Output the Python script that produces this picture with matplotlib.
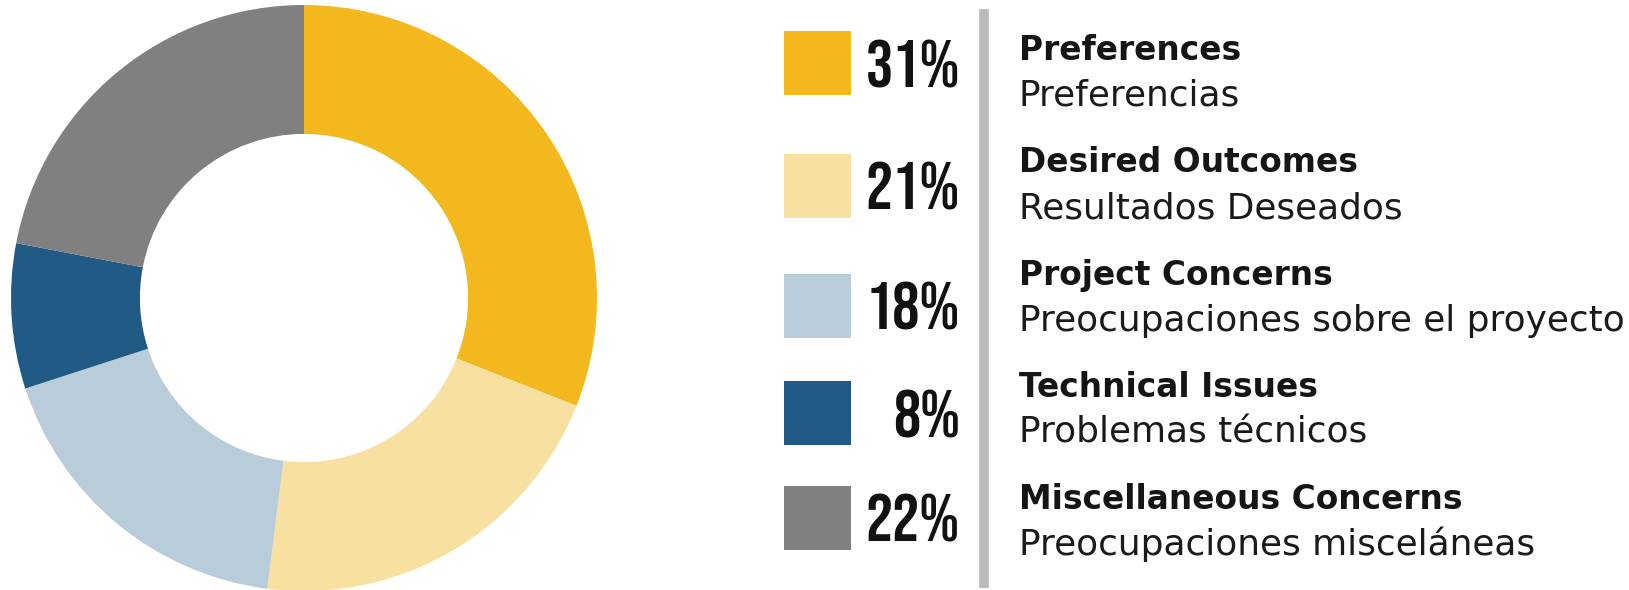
import matplotlib.pyplot as plt
from matplotlib.patches import Rectangle

# data
categories = ['Preferences', 'Desired Outcomes', 'Project Concerns',
              'Technical Issues', 'Miscellaneous Concerns']
categorias = ['Preferencias', 'Resultados Deseados', 'Preocupaciones sobre el proyecto',
              'Problemas técnicos', 'Preocupaciones misceláneas']
porcentajes = [31, 21, 18, 8, 22]
colores = ['#F2B81E', '#F8E0A0', '#B8CCDA', '#215A85', '#808080']

W, H = 1629, 590
fig = plt.figure(figsize=(W / 100, H / 100), dpi=100)

# donut
ax = fig.add_axes([11 / W, (H - 298 - 293) / H, 586 / W, 586 / H])
ax.pie(porcentajes, colors=colores, startangle=90, counterclock=False,
       radius=1, wedgeprops=dict(width=0.44, linewidth=0))
ax.set_xlim(-1, 1)
ax.set_ylim(-1, 1)
ax.axis('off')

# leyenda en coordenadas de pixel
lg = fig.add_axes([0, 0, 1, 1])
lg.set_xlim(0, W)
lg.set_ylim(H, 0)
lg.axis('off')

centros = [63, 186, 306, 413, 518]   # centro vertical de cada cuadro
for i, (p, c) in enumerate(zip(porcentajes, colores)):
    y = centros[i]
    lg.add_patch(Rectangle((784, y - 32), 67, 64, color=c, lw=0))
    lg.text(960, y + 24, f'{p}%', ha='right', va='baseline', fontsize=49,
            family=['Bebas Neue', 'Oswald', 'DejaVu Sans'], color='#111111')

# separador
lg.plot([984, 984], [9, 588], color='#BBBBBB', lw=7, solid_capstyle='butt')

fuente = ['DejaVu Sans']
t_en, t_es = [], []
for i, (en, es) in enumerate(zip(categories, categorias)):
    yb = 60 + i * 112.3
    t_en.append(lg.text(1019, yb, en, ha='left', va='baseline', fontsize=22,
                        fontweight='bold', family=fuente, color='#151515'))
    t_es.append(lg.text(1019, yb + 46, es, ha='left', va='baseline', fontsize=23.5,
                        family=fuente, color='#1a1a1a'))

# ajustar tamaño al ancho de la referencia
r = fig.canvas.get_renderer()
k_en = 443 / t_en[4].get_window_extent(r).width
k_es = 603 / t_es[2].get_window_extent(r).width
for t in t_en:
    t.set_fontsize(22 * k_en)
for t in t_es:
    t.set_fontsize(23.5 * k_es)

fig.savefig('out.png', dpi=100)
